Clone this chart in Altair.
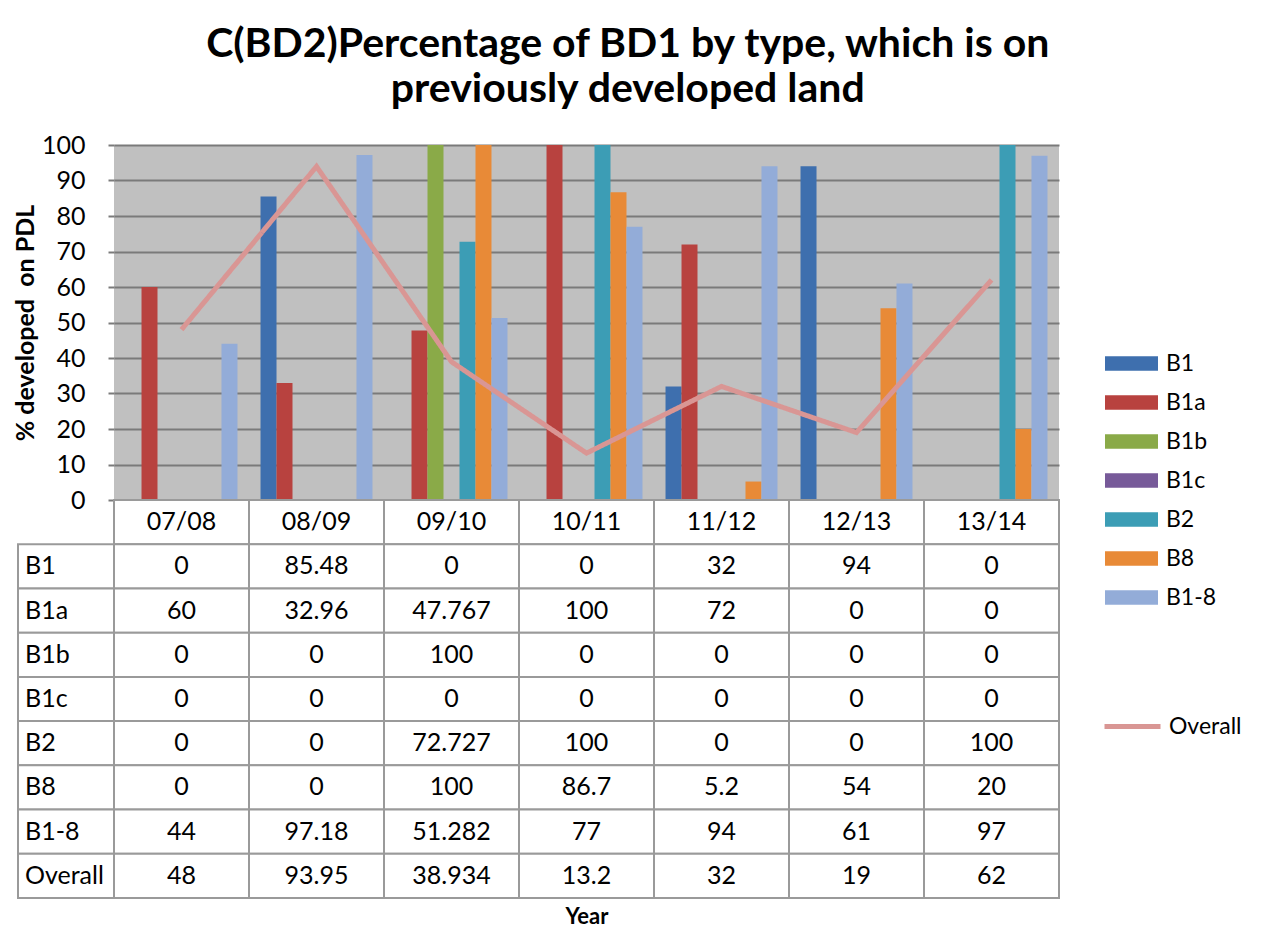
import altair as alt
import pandas as pd

years = ["07/08", "08/09", "09/10", "10/11", "11/12", "12/13", "13/14"]
series = ["B1", "B1a", "B1b", "B1c", "B2", "B8", "B1-8"]
b1 = [0, 85.48, 0, 0, 32, 94, 0]
b1a = [60, 32.96, 47.767, 100, 72, 0, 0]
b1b = [0, 0, 100, 0, 0, 0, 0]
b1c = [0, 0, 0, 0, 0, 0, 0]
b2 = [0, 0, 72.727, 100, 0, 0, 100]
b8 = [0, 0, 100, 86.7, 5.2, 54, 20]
b1_8 = [44, 97.18, 51.282, 77, 94, 61, 97]
overall = [48, 93.95, 38.934, 13.2, 32, 19, 62]
colors = ["#3E6FAE", "#B8423F", "#8AAA48", "#775A99", "#3C9DB5", "#E88A37", "#93ACD8"]
line_color = "#D99694"

values = {"B1": b1, "B1a": b1a, "B1b": b1b, "B1c": b1c, "B2": b2, "B8": b8, "B1-8": b1_8}

bar_rows = []
for s in series:
    for y, v in zip(years, values[s]):
        bar_rows.append({"year": y, "series": s, "value": v})
bar_df = pd.DataFrame(bar_rows)
line_df = pd.DataFrame({"year": years, "value": overall, "name": ["Overall"] * len(years)})

row_names = series + ["Overall"]
all_vals = dict(values)
all_vals["Overall"] = overall
HDR = " "
row_domain = [HDR] + row_names

tab_rows = []
for y in years:
    tab_rows.append({"year": y, "row": HDR, "txt": y})
for r in row_names:
    for y, v in zip(years, all_vals[r]):
        tab_rows.append({"year": y, "row": r, "txt": f"{v:g}"})
tab_df = pd.DataFrame(tab_rows)
lab_df = pd.DataFrame({"row": row_names})

FONT = "Lato"
W = 945
xscale = alt.Scale(domain=years, paddingInner=0, paddingOuter=0)
yaxis = alt.Axis(values=list(range(0, 101, 10)), grid=True, gridColor="#7a7a7a", gridWidth=2,
                 tickColor="#7a7a7a", tickSize=6, tickWidth=2, domain=False, labelOverlap=False,
                 labelFont=FONT, labelFontSize=25, labelColor="black", labelPadding=23,
                 title="% developed\u00a0 on PDL", titleFont=FONT, titleFontSize=25,
                 titleFontWeight="bold", titleColor="black", titlePadding=3)
yenc = alt.Y("value:Q", scale=alt.Scale(domain=[0, 100], nice=False), axis=yaxis)

LEG_X = 991
bars = alt.Chart(bar_df).mark_bar().encode(
    x=alt.X("year:N", scale=xscale, axis=None),
    xOffset=alt.XOffset("series:N", scale=alt.Scale(domain=series, paddingInner=0, paddingOuter=0.72)),
    y=yenc,
    color=alt.Color("series:N", scale=alt.Scale(domain=series, range=colors),
                    legend=alt.Legend(title=None, orient="none", legendX=LEG_X, legendY=192,
                                      symbolType="M-1,-0.27H1V0.27H-1Z", symbolSize=2809,
                                      symbolStrokeWidth=0, symbolOpacity=1, rowPadding=-1.3,
                                      labelFont=FONT, labelFontSize=23, labelColor="black",
                                      labelOffset=8, padding=0)),
)

line = alt.Chart(line_df).mark_line(strokeWidth=5, color=line_color).encode(
    x=alt.X("year:N", scale=xscale, axis=None),
    y=yenc,
    strokeDash=alt.StrokeDash("name:N", scale=alt.Scale(domain=["Overall"], range=[[1, 0]]),
                              legend=alt.Legend(title=None, orient="none", legendX=LEG_X - 3, legendY=551,
                                                symbolType="stroke", symbolSize=3136,
                                                symbolStrokeWidth=5, symbolStrokeColor=line_color,
                                                labelFont=FONT, labelFontSize=23, labelColor="black",
                                                labelOffset=6, padding=0)),
)

top = alt.layer(bars, line).properties(
    width=W, height=355, view=alt.ViewBackground(fill="#C0C0C0", strokeWidth=0)
)

yscale = alt.Scale(domain=row_domain, paddingInner=0, paddingOuter=0)
xt = alt.X("year:N", scale=xscale,
           axis=alt.Axis(labels=False, ticks=False, domain=False, title="Year", titleFont=FONT,
                         titleFontSize=22, titleFontWeight="bold", titleColor="black", titlePadding=8))

cells = alt.Chart(tab_df).mark_rect(fill="white", stroke="#9a9a9a", strokeWidth=2).encode(
    x=xt, y=alt.Y("row:N", scale=yscale, axis=None)
)
lab_cells = alt.Chart(lab_df).mark_rect(fill="white", stroke="#9a9a9a", strokeWidth=2).encode(
    x=alt.value(-96), x2=alt.value(0), y=alt.Y("row:N", scale=yscale, axis=None)
)
cell_text = alt.Chart(tab_df).mark_text(font=FONT, fontSize=25, color="black", baseline="middle").encode(
    x=alt.X("year:N", scale=xscale), y=alt.Y("row:N", scale=yscale), text="txt:N"
)
lab_text = alt.Chart(lab_df).mark_text(font=FONT, fontSize=25, color="black", baseline="middle",
                                       align="left").encode(
    x=alt.value(-89), y=alt.Y("row:N", scale=yscale), text="row:N"
)
table = alt.layer(cells, lab_cells, cell_text, lab_text).properties(width=W, height=398)

chart = alt.vconcat(top, table, spacing=0, bounds="flush").properties(
    title=alt.TitleParams(
        text=["C(BD2)Percentage of BD1 by type, which is on", "previously developed land"],
        font=FONT, fontSize=41, fontWeight="bold", color="black",
        lineHeight=45, anchor="middle", offset=22),
    padding={"left": 5, "top": 16, "right": 2, "bottom": 5},
).configure_view(strokeWidth=0)

chart.save("out.html", embed_options={"renderer": "svg", "actions": False})
